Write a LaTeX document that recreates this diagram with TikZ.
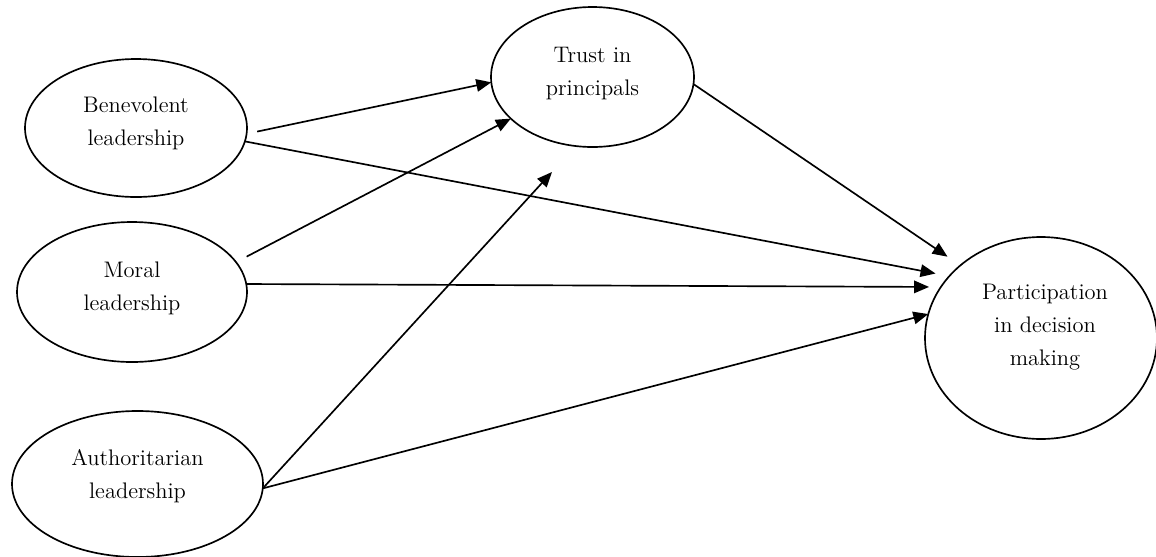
\documentclass[tikz,border=0pt]{standalone}
\usetikzlibrary{shapes.geometric,arrows.meta}
\begin{document}
\begin{tikzpicture}[x=0.6pt,y=-0.6pt,
  ell/.style={draw,ellipse,line width=1pt,inner sep=0pt,outer sep=0pt},
  lbl/.style={align=center,font=\fontsize{13.5}{19.8}\selectfont,inner sep=0pt},
  arr/.style={line width=1pt,-{Triangle[length=9pt,width=7.5pt]}}]
\useasboundingbox (0,0) rectangle (1156,556);
% ellipses
\node[ell,minimum width=133.2pt,minimum height=82.8pt] (B) at (136,128) {};
\node[ell,minimum width=138pt,minimum height=84pt] (M) at (132,292) {};
\node[ell,minimum width=150.6pt,minimum height=87.6pt] (A) at (137.5,484) {};
\node[ell,minimum width=121.8pt,minimum height=84pt] (T) at (592.5,77) {};
\node[ell,minimum width=139.2pt,minimum height=121.2pt] (P) at (1041,338) {};
% labels
\node[lbl] (Bt) at ([shift={(0,-4.5)}]B.center) {Benevolent\\leadership};
\node[lbl] (Mt) at ([shift={(0,-3.5)}]M.center) {Moral\\leadership};
\node[lbl] (At) at ([shift={(0,-7.5)}]A.center) {Authoritarian\\leadership};
\node[lbl] (Tt) at ([shift={(0,-3.5)}]T.center) {Trust in\\principals};
\node[lbl] (Pt) at ([shift={(4,-11)}]P.center) {Participation\\in decision\\making};
% free end
\coordinate (t5) at (552,172);
% connectors
\draw[arr,shorten <=6.5pt] (B.-3) -- (T.183);
\draw[arr,shorten >=8.4pt] (B.-7) -- (P.146);
\draw[arr,shorten <=7.2pt] (M.16) -- (T.207);
\draw[arr,shorten >=7.1pt] (M.4) -- (P.153);
\draw[arr] (A.-2) -- (t5);
\draw[arr] (A.-2) -- (P.168);
\draw[arr,shorten >=9.3pt] (T.-4) -- (P.138);
\end{tikzpicture}
\end{document}
